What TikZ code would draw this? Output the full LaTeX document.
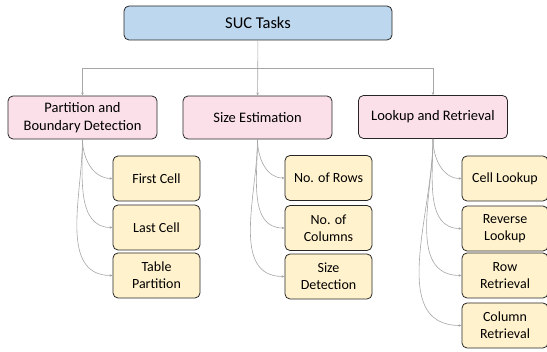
\documentclass[tikz,border=0pt]{standalone}
\usepackage{fontspec}
\setmainfont{Carlito}
\usetikzlibrary{arrows.meta}
\definecolor{topfill}{HTML}{BDD7EE}
\definecolor{pinkfill}{HTML}{FBE0EA}
\definecolor{yelfill}{HTML}{FFF2CC}
\definecolor{bordc}{HTML}{262626}
\definecolor{linec}{HTML}{A6A6A6}
\tikzset{
  box/.style={draw=bordc, line width=0.8pt, rounded corners=5pt, align=center, inner sep=1pt},
  topbox/.style={box, fill=topfill, minimum width=268pt, minimum height=34pt, font=\fontsize{16.5}{19}\selectfont},
  lvlbox/.style={box, fill=pinkfill, minimum width=149pt, minimum height=43pt, font=\fontsize{14.5}{17.3}\selectfont},
  leafbox/.style={box, fill=yelfill, minimum width=87pt, minimum height=45pt, font=\fontsize{14}{16.8}\selectfont},
  conn/.style={draw=linec, line width=0.6pt, -{Stealth[length=3pt,width=2.5pt]}},
}
\begin{document}
\begin{tikzpicture}[x=1pt,y=-1pt]
\useasboundingbox (0,0) rectangle (547,352);
\node[topbox] (top) at (258,23) {SUC Tasks};
\node[lvlbox] (part) at (82.5,117.5) {Partition and\\Boundary Detection};
\node[lvlbox] (size) at (257.5,117.5) {Size Estimation};
\node[lvlbox] (look) at (433,117) {Lookup and Retrieval};
\coordinate (bus) at (258,68);
\draw[conn] (top) -- (size);
\draw[conn] (bus) -| (part);
\draw[conn] (bus) -| (look);
% column 1
\node[leafbox] (fc) at (156.5,178.5) {First Cell};
\node[leafbox] (lc) at (156.5,227.5) {Last Cell};
\node[leafbox] (tp) at (156.5,275.5) {Table\\Partition};
% column 2
\node[leafbox] (nr) at (328.5,178) {No. of Rows};
\node[leafbox] (nc) at (328.5,228) {No. of\\Columns};
\node[leafbox] (sd) at (328.5,276.5) {Size\\Detection};
% column 3
\node[leafbox, minimum width=86pt] (cl) at (505,178.5) {Cell Lookup};
\node[leafbox, minimum width=86pt] (rl) at (505,228.5) {Reverse\\Lookup};
\node[leafbox, minimum width=86pt] (rr) at (505,275.5) {Row\\Retrieval};
\node[leafbox, minimum width=86pt] (cr) at (505,325.5) {Column\\Retrieval};
\foreach \p/\c in {part/fc, part/lc, part/tp, size/nr, size/nc, size/sd, look/cl, look/rl, look/rr, look/cr}{
  \draw[conn] (\p.south) to[out=-90,in=180] (\c.west);
}
\end{tikzpicture}
\end{document}
